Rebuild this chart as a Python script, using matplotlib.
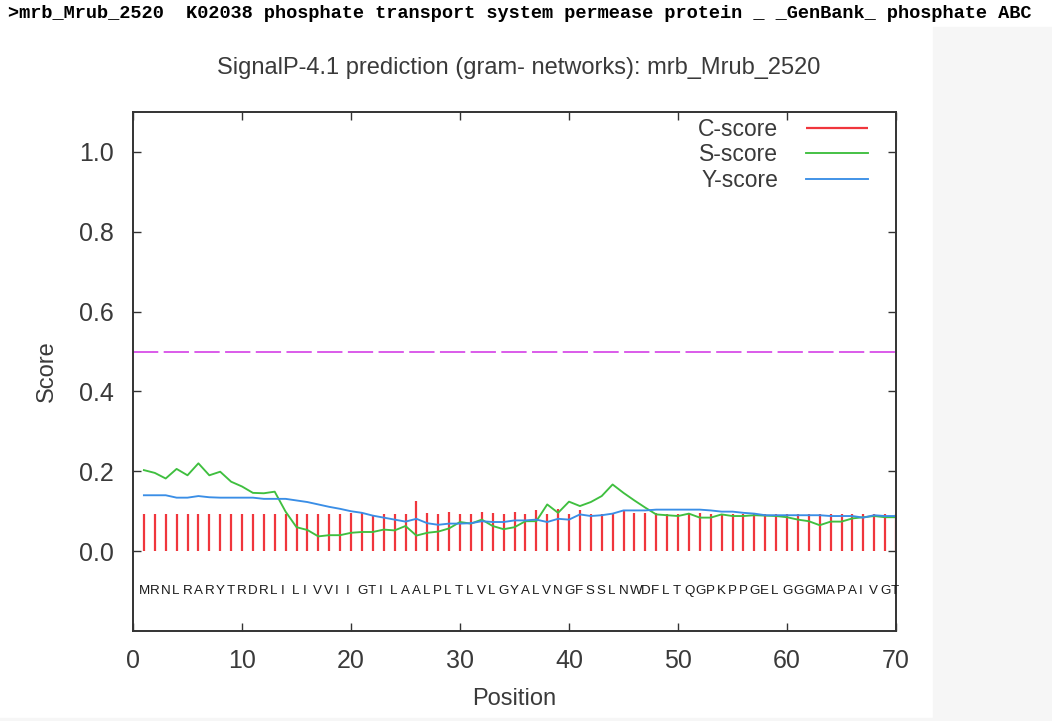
import numpy as np
import matplotlib
matplotlib.use("Agg")
import matplotlib.pyplot as plt
from matplotlib.patches import Rectangle

# --- data ---
header = ">mrb_Mrub_2520  K02038 phosphate transport system permease protein _ _GenBank_ phosphate ABC"
title = "SignalP-4.1 prediction (gram- networks): mrb_Mrub_2520"
sequence = "MRNLRARYTRDRLILIVVIIGTILAALPLTLVLGYALVNGFSSLNWDFLTQGPKPPGELGGGMAPAIVGT"
positions = np.arange(1, 71)

c_score = [0.092, 0.092, 0.092, 0.092, 0.092, 0.092, 0.092, 0.092, 0.092, 0.092,
           0.092, 0.092, 0.092, 0.092, 0.092, 0.092, 0.092, 0.092, 0.092, 0.096,
           0.096, 0.091, 0.092, 0.092, 0.092, 0.125, 0.096, 0.092, 0.099, 0.092,
           0.092, 0.097, 0.096, 0.092, 0.099, 0.092, 0.103, 0.092, 0.106, 0.092,
           0.102, 0.092, 0.092, 0.094, 0.100, 0.096, 0.096, 0.096, 0.092, 0.092,
           0.094, 0.096, 0.093, 0.092, 0.092, 0.092, 0.096, 0.092, 0.092, 0.092,
           0.092, 0.092, 0.092, 0.092, 0.092, 0.092, 0.092, 0.092, 0.092, 0.092]

s_score = [0.203, 0.196, 0.182, 0.206, 0.190, 0.220, 0.190, 0.199, 0.174, 0.162,
           0.146, 0.145, 0.149, 0.099, 0.060, 0.053, 0.037, 0.040, 0.040, 0.046,
           0.048, 0.048, 0.054, 0.052, 0.063, 0.039, 0.046, 0.049, 0.057, 0.073,
           0.069, 0.079, 0.063, 0.055, 0.060, 0.075, 0.075, 0.117, 0.096, 0.124,
           0.113, 0.123, 0.138, 0.167, 0.146, 0.127, 0.109, 0.092, 0.090, 0.088,
           0.094, 0.084, 0.084, 0.092, 0.088, 0.088, 0.090, 0.089, 0.088, 0.085,
           0.079, 0.075, 0.065, 0.074, 0.074, 0.082, 0.085, 0.088, 0.085, 0.085]

y_score = [0.140, 0.140, 0.140, 0.134, 0.134, 0.138, 0.135, 0.134, 0.134, 0.134,
           0.134, 0.131, 0.131, 0.131, 0.127, 0.123, 0.117, 0.111, 0.106, 0.100,
           0.096, 0.089, 0.084, 0.079, 0.074, 0.081, 0.070, 0.066, 0.069, 0.069,
           0.070, 0.075, 0.073, 0.073, 0.077, 0.077, 0.079, 0.073, 0.081, 0.079,
           0.092, 0.088, 0.090, 0.094, 0.102, 0.102, 0.102, 0.104, 0.104, 0.104,
           0.104, 0.104, 0.102, 0.099, 0.099, 0.096, 0.094, 0.090, 0.090, 0.090,
           0.090, 0.090, 0.090, 0.088, 0.088, 0.088, 0.084, 0.090, 0.088, 0.088]

cutoff = 0.5
seq_row = -0.1
xticks = [0, 10, 20, 30, 40, 50, 60, 70]
yticks = [0.0, 0.2, 0.4, 0.6, 0.8, 1.0]

W, H = 1052, 721
fig = plt.figure(figsize=(W / 100, H / 100), dpi=100, facecolor="white")

# page background around the embedded plot image
bg = "#f6f6f6"
fig.patches.append(Rectangle((933 / W, 0), 1 - 933 / W, 1 - 27 / H,
                             transform=fig.transFigure, color=bg, zorder=-10))
fig.patches.append(Rectangle((0, 0), 1, 3 / H,
                             transform=fig.transFigure, color=bg, zorder=-10))

fig.text(8 / W, 1 - 14 / H, header, family="Liberation Mono", weight="bold",
         fontsize=13.45, va="center", ha="left", color="black")

ax = fig.add_axes([133 / W, 90 / H, 763 / W, 519 / H])
txt_col = "#3a3a3a"
fs = 16.5
sans = ["Liberation Sans"]

ax.vlines(positions, 0, c_score, color="#f0363c", lw=1.6, label="C-score")
ax.plot(positions, s_score, color="#3fbf3f", lw=1.35, label="S-score")
ax.plot(positions, y_score, color="#3a8ee6", lw=1.35, label="Y-score")
ax.axhline(cutoff, color="#d84ee8", lw=1.3, dashes=(14, 3))

for p, aa in zip(positions, sequence):
    ax.text(p - 0.45, seq_row, aa, ha="left", va="center", fontsize=9.6,
            family=["Liberation Sans Narrow", "Liberation Sans"],
            color="#1a1a1a")

ax.set_xlim(0, 70)
ax.set_ylim(-0.2, 1.1)
ax.set_xticks(xticks)
ax.set_yticks(yticks)
ax.set_yticklabels([f"{v:.1f}" for v in yticks])
ax.tick_params(direction="in", length=6, width=1, top=True, right=True,
               labelsize=18, labelcolor=txt_col, color="#333333")
ax.tick_params(axis="x", pad=13)
ax.tick_params(axis="y", pad=14)
for s in ax.spines.values():
    s.set_color("#333333")
    s.set_linewidth(1.4)
for lab in ax.get_xticklabels() + ax.get_yticklabels():
    lab.set_family(sans)

ax.set_xlabel("Position", fontsize=17, color=txt_col, family=sans)
ax.set_ylabel("Score", fontsize=17, color=txt_col, family=sans)
ax.xaxis.set_label_coords(0.5, -0.11)
ax.yaxis.set_label_coords(-0.099, 0.5)

fig.text(519 / W, 1 - 68 / H, title, ha="center", va="center", fontsize=17,
         color=txt_col, family=sans)

leg = ax.legend(loc="upper right", frameon=False, markerfirst=False,
                handlelength=2.7, handletextpad=1.2,
                labelspacing=0.12, borderaxespad=0.0,
                bbox_to_anchor=(0.975, 1.007),
                prop={"family": sans, "size": fs})
for t in leg.get_texts():
    t.set_color(txt_col)

fig.savefig("out.png", dpi=100, facecolor=fig.get_facecolor())
